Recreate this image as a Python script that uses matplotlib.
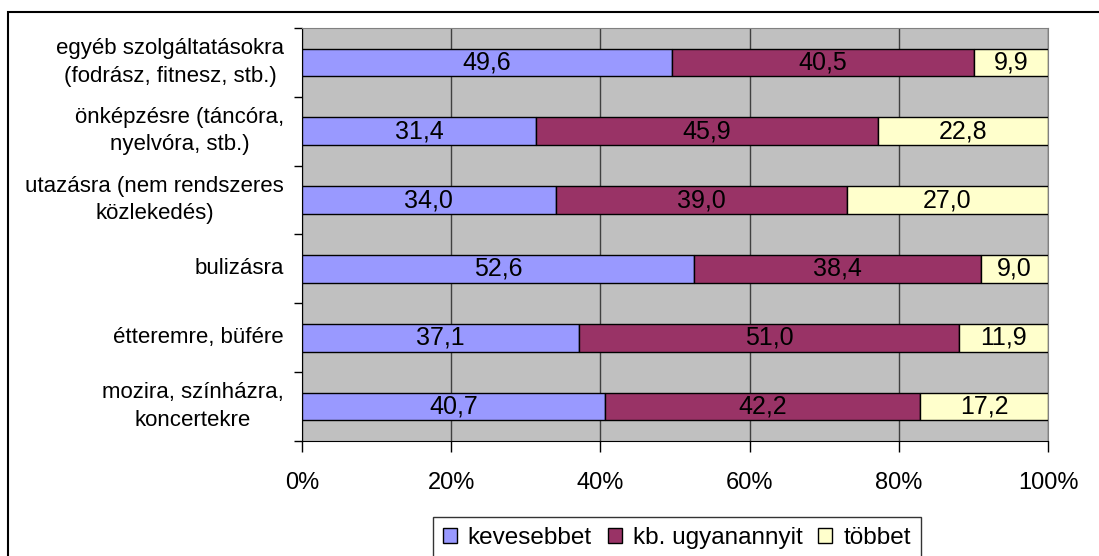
import numpy as np
import matplotlib
matplotlib.use("Agg")
import matplotlib.pyplot as plt
from matplotlib.patches import Rectangle

plt.rcParams["font.family"] = ["Liberation Sans", "DejaVu Sans"]
plt.rcParams["font.size"] = 17

categories = ["egyéb szolgáltatásokra\n(fodrász, fitnesz, stb.)",
              "önképzésre (táncóra,\nnyelvóra, stb.)",
              "utazásra (nem rendszeres\nközlekedés)",
              "bulizásra",
              "étteremre, büfére",
              "mozira, színházra,\nkoncertekre"]
kevesebbet = [49.6, 31.4, 34.0, 52.6, 37.1, 40.7]
ugyanannyit = [40.5, 45.9, 39.0, 38.4, 51.0, 42.2]
tobbet = [9.9, 22.8, 27.0, 9.0, 11.9, 17.2]
series_names = ["kevesebbet", "kb. ugyanannyit", "többet"]
colors = ["#9999FF", "#993366", "#FFFFCC"]

W, H = 1099, 556
fig = plt.figure(figsize=(W / 100, H / 100), dpi=100)
ax = fig.add_axes([302 / W, 1 - 441 / H, (1048 - 302) / W, (441 - 28) / H])
ax.set_facecolor("#C0C0C0")

data = np.array([kevesebbet, ugyanannyit, tobbet])
shares = data / data.sum(axis=0) * 100
y = np.arange(len(categories))
left = np.zeros(len(categories))
for vals, raw, name, col in zip(shares, data, series_names, colors):
    bars = ax.barh(y, vals, left=left, height=0.4, color=col,
                   edgecolor="black", linewidth=1, label=name, zorder=3)
    for b, v in zip(bars, raw):
        ax.text(b.get_x() + b.get_width() / 2, b.get_y() + b.get_height() / 2,
                f"{v:.1f}".replace(".", ","), ha="center", va="center",
                fontsize=18, zorder=4)
    left += vals

ax.set_xlim(0, 100)
ax.set_ylim(len(categories) - 0.5, -0.5)
ax.set_xticks([0, 20, 40, 60, 80, 100])
ax.set_xticklabels([f"{t}%" for t in [0, 20, 40, 60, 80, 100]])
ax.xaxis.grid(True, color="#404040", linewidth=1, zorder=0)
ax.set_axisbelow(True)

ax.set_yticks(np.arange(-0.5, len(categories)), labels=[])
ax.set_yticks(y, minor=True)
ax.set_yticklabels(categories, minor=True, ha="right", va="center",
                   multialignment="center", fontsize=16, linespacing=1.4)
ax.tick_params(axis="y", which="minor", length=0, pad=13)
ax.tick_params(axis="y", which="major", length=6, width=1, color="black")
ax.tick_params(axis="x", length=8, width=1, color="black", pad=14)

ax.spines["left"].set_color("black")
ax.spines["bottom"].set_color("black")
ax.spines["top"].set_color("#808080")
ax.spines["right"].set_color("#808080")

leg = ax.legend(loc="upper left", bbox_to_anchor=(433 / W, 1 - 517 / H),
                bbox_transform=fig.transFigure, ncol=3, frameon=True,
                fancybox=False, edgecolor="black", handlelength=0.58,
                handleheight=0.58, handletextpad=0.45, columnspacing=0.65,
                borderpad=0.4, borderaxespad=0, fontsize=17.5)
leg.get_frame().set_linewidth(1)

fig.patches.append(Rectangle((8 / W, -0.1), 2, 1 - 12 / H + 0.1,
                             transform=fig.transFigure, fill=False,
                             edgecolor="black", linewidth=1.5))

fig.savefig("out.png", dpi=100)
